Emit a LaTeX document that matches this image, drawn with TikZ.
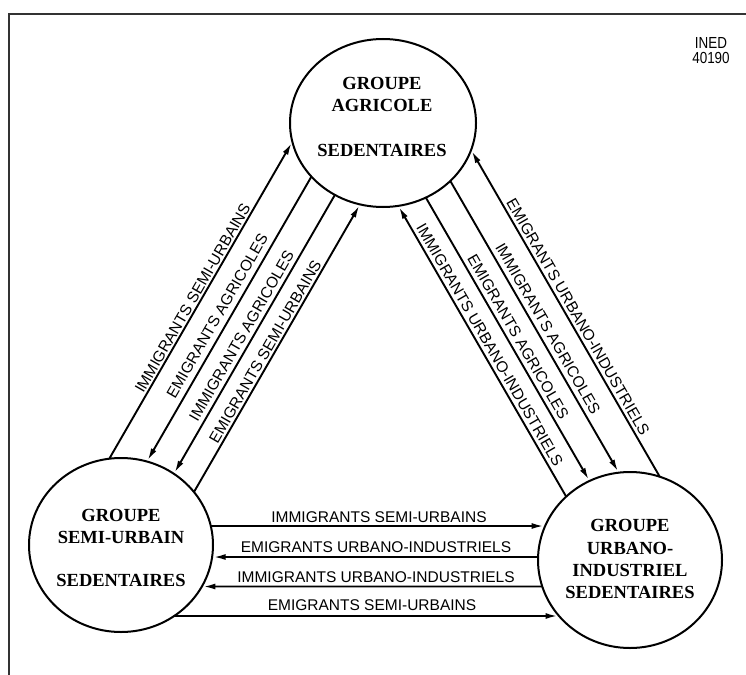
\documentclass[tikz,border=0pt]{standalone}
\usepackage{fontspec}
\setmainfont{Liberation Serif}
\setsansfont{Liberation Sans}
\usetikzlibrary{shapes.geometric,arrows.meta,intersections}
\begin{document}
\begin{tikzpicture}[x=1pt,y=-1pt,
  circ/.style={ellipse, draw, line width=2pt, inner sep=0pt},
  ctext/.style={font=\fontsize{18.5}{22}\selectfont\bfseries, inner sep=0pt, text height=12.2pt, text depth=0pt},
  lab/.style={font=\sffamily\fontsize{15.5}{18}\selectfont, inner sep=0pt, text height=11.1pt, text depth=0pt},
  arr/.style={line width=1.9pt, -{Latex[length=12pt,width=6pt]}, shorten >=1.5pt},
  frame/.style={line width=2.2pt, black!80}
]
\useasboundingbox (0,0) rectangle (746,674);
\fill[white] (0,0) rectangle (746,674);
% frame
\coordinate (fBL) at (9,690);
\coordinate (fTL) at (9,14);
\coordinate (fTR) at (760,14);
\draw[frame] (fBL) -- (fTL) -- (fTR);
\node[font=\sffamily\fontsize{16}{15}\selectfont, xscale=0.84, align=center, inner sep=0pt] (ined) at (711,50.5) {INED\\40190};

% groups
\node[circ, minimum width=186pt, minimum height=168pt, name path global=agrP] (agr) at (383,123) {};
\node[circ, minimum width=184pt, minimum height=174pt, name path global=semiP] (semi) at (121,545) {};
\node[circ, minimum width=184pt, minimum height=176pt, name path global=urbP] (urb) at (630,560) {};

\node[ctext] (agr1) at (382,83) {GROUPE};
\node[ctext] (agr2) at (382,105) {AGRICOLE};
\node[ctext] (agr3) at (382,150) {SEDENTAIRES};

\node[ctext] (semi1) at (121,515) {GROUPE};
\node[ctext] (semi2) at (121,537) {SEMI-URBAIN};
\node[ctext] (semi3) at (121,580) {SEDENTAIRES};

\node[ctext] (urb1) at (630,525) {GROUPE};
\node[ctext] (urb2) at (630,548) {URBANO-};
\node[ctext] (urb3) at (630,570) {INDUSTRIEL};
\node[ctext] (urb4) at (630,592) {SEDENTAIRES};

% left bundle (semi <-> agr)
\begin{scope}[x={(0.5pt,0.866pt)}, y={(0.866pt,-0.5pt)}]
  \path[name path global=la] (-411,324) -- (84,324);
  \path[name path global=lb] (-411,358) -- (84,358);
  \path[name path global=lc] (-411,387.5) -- (84,387.5);
  \path[name path global=ld] (-411,414) -- (84,414);
  \node[lab, rotate=60] (lla) at (-161.8,315.7) {IMMIGRANTS SEMI-URBAINS};
  \node[lab, rotate=60] (llb) at (-165.2,345.9) {EMIGRANTS AGRICOLES};
  \node[lab, rotate=60] (llc) at (-170.2,377) {IMMIGRANTS AGRICOLES};
  \node[lab, rotate=60] (lld) at (-171.9,405.3) {EMIGRANTS SEMI-URBAINS};
\end{scope}
\path[name intersections={of=la and semiP, by=las}];
\path[name intersections={of=la and agrP, by=laa}];
\path[name intersections={of=lb and semiP, by=lbs}];
\path[name intersections={of=lb and agrP, by=lba}];
\path[name intersections={of=lc and semiP, by=lcs}];
\path[name intersections={of=lc and agrP, by=lca}];
\path[name intersections={of=ld and semiP, by=lds}];
\path[name intersections={of=ld and agrP, by=lda}];
\draw[arr] (las) -- (laa);
\draw[arr] (lba) -- (lbs);
\draw[arr] (lca) -- (lcs);
\draw[arr] (lds) -- (lda);

% right bundle (agr <-> urb)
\begin{scope}[x={(0.5pt,-0.866pt)}, y={(0.866pt,0.5pt)}]
  \path[name path global=ra] (299,242) -- (800,242);
  \path[name path global=rb] (299,270) -- (800,270);
  \path[name path global=rc] (299,299.5) -- (800,299.5);
  \path[name path global=rd] (299,333) -- (800,333);
  \node[lab, rotate=-60] (rla) at (543.8,251.8) {IMMIGRANTS URBANO-INDUSTRIELS};
  \node[lab, rotate=-60] (rlb) at (550.8,280.6) {EMIGRANTS AGRICOLES};
  \node[lab, rotate=-60] (rlc) at (558.5,310.6) {IMMIGRANTS AGRICOLES};
  \node[lab, rotate=-60] (rld) at (563.4,342.5) {EMIGRANTS URBANO-INDUSTRIELS};
\end{scope}
\path[name intersections={of=ra and agrP, by=raa}];
\path[name intersections={of=ra and urbP, by=rau}];
\path[name intersections={of=rb and agrP, by=rba}];
\path[name intersections={of=rb and urbP, by=rbu}];
\path[name intersections={of=rc and agrP, by=rca}];
\path[name intersections={of=rc and urbP, by=rcu}];
\path[name intersections={of=rd and agrP, by=rda}];
\path[name intersections={of=rd and urbP, by=rdu}];
\draw[arr] (rau) -- (raa);
\draw[arr] (rba) -- (rbu);
\draw[arr] (rca) -- (rcu);
\draw[arr] (rdu) -- (rda);

% horizontal bundle (semi <-> urb)
\path[name path=ha] (121,526) -- (630,526);
\path[name path=hb] (121,557) -- (630,557);
\path[name path=hc] (121,586.5) -- (630,586.5);
\path[name path=hd] (121,616) -- (630,616);
\path[name intersections={of=ha and semiP, by=has}];
\path[name intersections={of=ha and urbP, by=hau}];
\path[name intersections={of=hb and semiP, by=hbs}];
\path[name intersections={of=hb and urbP, by=hbu}];
\path[name intersections={of=hc and semiP, by=hcs}];
\path[name intersections={of=hc and urbP, by=hcu}];
\path[name intersections={of=hd and semiP, by=hds}];
\path[name intersections={of=hd and urbP, by=hdu}];
\draw[arr] (has) -- (hau);
\draw[arr] (hbu) -- (hbs);
\draw[arr] (hcu) -- (hcs);
\draw[arr] (hds) -- (hdu);
\node[lab] (hla) at (379,517) {IMMIGRANTS SEMI-URBAINS};
\node[lab] (hlb) at (376,546.5) {EMIGRANTS URBANO-INDUSTRIELS};
\node[lab] (hlc) at (376,576.5) {IMMIGRANTS URBANO-INDUSTRIELS};
\node[lab] (hld) at (372,604.5) {EMIGRANTS SEMI-URBAINS};
\end{tikzpicture}
\end{document}
